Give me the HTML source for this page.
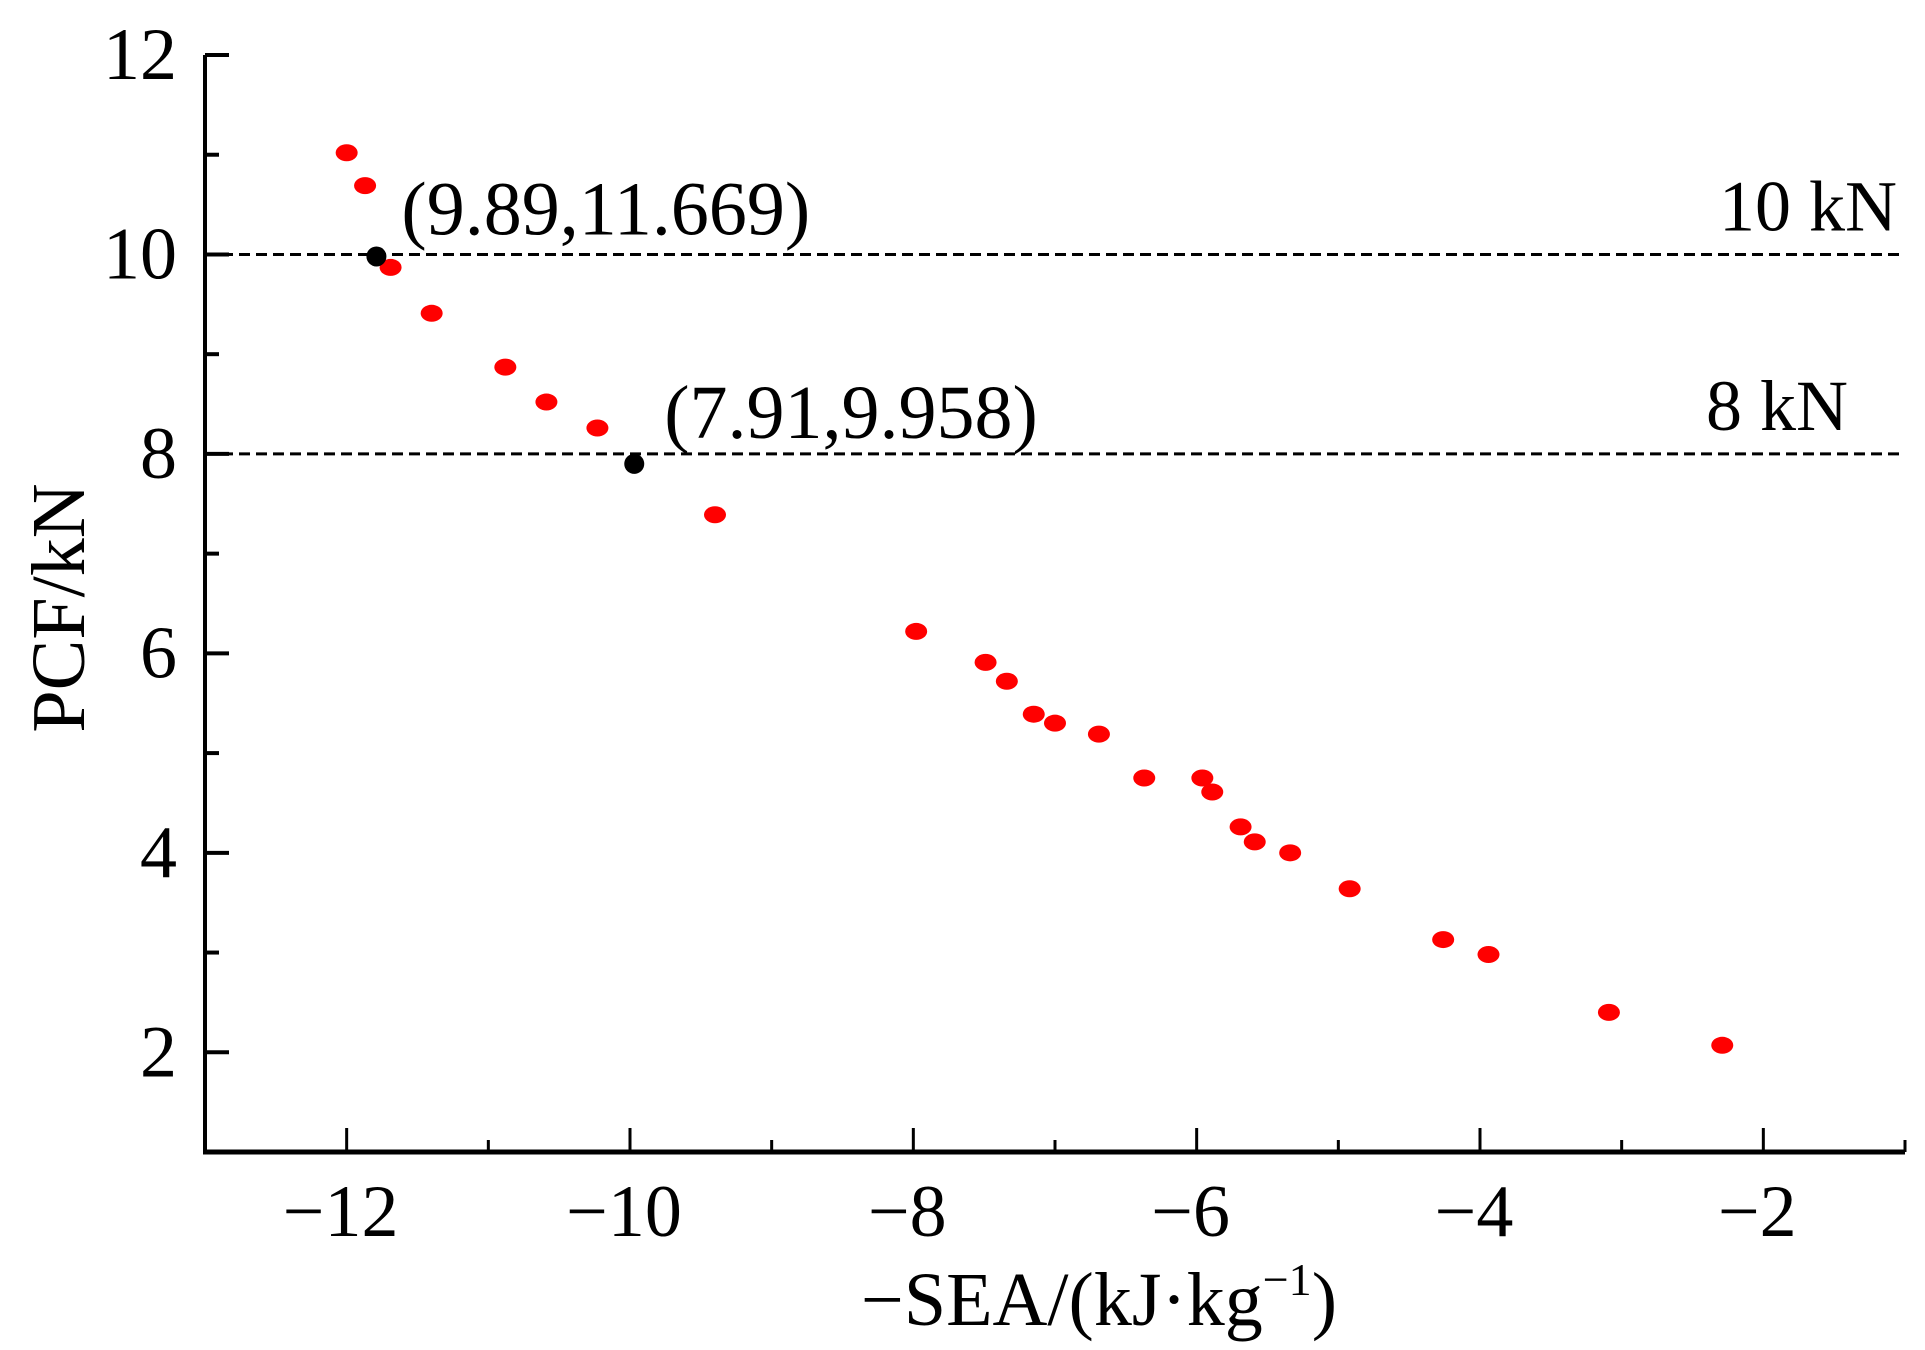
<!DOCTYPE html>
<html><head><meta charset="utf-8"><style>
html,body{margin:0;padding:0;background:#fff;}
svg text{font-family:"Liberation Serif",serif;fill:#000;}
</style></head><body>
<svg id="chart" width="1925" height="1345" viewBox="0 0 1925 1345" xmlns="http://www.w3.org/2000/svg"></svg>
<script>
const xVals=[-12.00,-11.87,-11.69,-11.40,-10.88,-10.59,-10.23,-9.40,-7.98,-7.49,-7.34,-7.15,-7.00,-6.69,-6.37,-5.96,-5.89,-5.69,-5.59,-5.34,-4.92,-4.26,-3.94,-3.09,-2.29];
const yVals=[11.02,10.69,9.87,9.41,8.87,8.52,8.26,7.39,6.22,5.91,5.72,5.39,5.30,5.19,4.75,4.75,4.61,4.26,4.11,4.00,3.64,3.13,2.98,2.40,2.07];
const hiX=[-11.79,-9.97];
const hiY=[9.98,7.90];
const hiLabels=["(9.89,11.669)","(7.91,9.958)"];
const refLines=[10,8];
const refLabels=["10 kN","8 kN"];
const xTicks=[-12,-10,-8,-6,-4,-2];
const xTickLabels=["\u221212","\u221210","\u22128","\u22126","\u22124","\u22122"];
const yTicks=[2,4,6,8,10,12];
const yTickLabels=["2","4","6","8","10","12"];

const L=205,R=1905,T=55,B=1152,xMin=-13,xMax=-1,yMin=1,yMax=12;
const sx=v=>L+(v-xMin)/(xMax-xMin)*(R-L);
const sy=v=>B-(v-yMin)/(yMax-yMin)*(B-T);
const svg=document.getElementById('chart');
const NS='http://www.w3.org/2000/svg';
function mk(tag,attrs,txt){const e=document.createElementNS(NS,tag);for(const k in attrs)e.setAttribute(k,attrs[k]);if(txt!==undefined)e.textContent=txt;svg.appendChild(e);return e;}

refLines.forEach((v,i)=>{
  let e=mk('line',{x1:L,x2:R,y1:sy(v),y2:sy(v),stroke:'#000','stroke-width':3,'stroke-dasharray':'11 6'});
  
  
  let t=mk('text',{x:i==0?1897:1848,y:sy(v)-24,'font-size':72,'text-anchor':'end'},refLabels[i]);
  
  
});
let ya=mk('line',{x1:L,x2:L,y1:T,y2:B+2,stroke:'#000','stroke-width':4});


let xa=mk('line',{x1:L-2,x2:R,y1:B,y2:B,stroke:'#000','stroke-width':5});


for(let v=yMin;v<=yMax;v++){
  const major=yTicks.includes(v);
  let e=mk('line',{x1:L,x2:L+(major?24:14),y1:sy(v),y2:sy(v),stroke:'#000','stroke-width':4});
  
  
}
yTicks.forEach((v,i)=>{
  let t=mk('text',{x:L-28,y:sy(v)+24,'font-size':74,'text-anchor':'end'},yTickLabels[i]);
  
  
});
for(let v=xMin;v<=xMax;v++){
  const major=xTicks.includes(v);
  let e=mk('line',{x1:sx(v),x2:sx(v),y1:B,y2:B-(major?24:12),stroke:'#000','stroke-width':3});
  
  
}
xTicks.forEach((v,i)=>{
  let t=mk('text',{x:sx(v)-6,y:1236,'font-size':74,'text-anchor':'middle'},xTickLabels[i]);
  
  
});
let xt=mk('text',{x:1099,y:1325,'font-size':76,'text-anchor':'middle'});
xt.innerHTML='\u2212SEA/(kJ\u00b7kg<tspan dy="-30" font-size="46">\u22121</tspan><tspan dy="30">)</tspan>';


let yt=mk('text',{x:0,y:0,'font-size':76,'text-anchor':'middle',transform:'translate(84,608) rotate(-90)'},'PCF/kN');


xVals.forEach((x,i)=>{
  let e=mk('ellipse',{cx:sx(x),cy:sy(yVals[i]),rx:11,ry:8.5,fill:'#ff0000'});
  
  
});
hiX.forEach((x,i)=>{
  let e=mk('circle',{cx:sx(x),cy:sy(hiY[i]),r:10,fill:'#000'});
  
  
  let t=mk('text',{x:sx(x)+(i==0?25:30),y:sy(hiY[i])-(i==0?22:26),'font-size':76},hiLabels[i]);
  
  
});
</script>
</body></html>
